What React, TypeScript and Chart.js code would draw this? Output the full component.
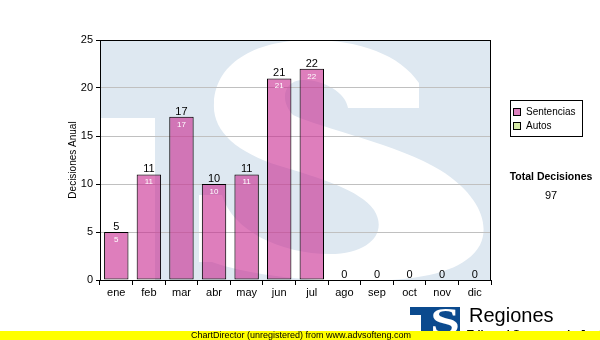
import React, { useEffect, useRef } from "react";
import { Chart, registerables } from "chart.js";

Chart.register(...registerables);

const months = ["ene", "feb", "mar", "abr", "may", "jun", "jul", "ago", "sep", "oct", "nov", "dic"];
const sentencias = [5, 11, 17, 10, 11, 21, 22, 0, 0, 0, 0, 0];
const autos: (number | null)[] = [null, null, null, null, null, null, null, null, null, null, null, null];
const seriesNames = ["Sentencias", "Autos"];
const yAxisTitle = "Decisiones Anual";
const totalLabel = "Total Decisiones";
const totalValue = 97;
const footerText = "ChartDirector (unregistered) from www.advsofteng.com";
const logoText = "Regiones";
const logoSubText = "Tribunal Supremo de Justicia";

const BAR_FILL = "rgba(200,40,143,0.6)";
const BAR_SWATCH = "#DD80BE";
const AUTOS_SWATCH = "#D6E9A6";
const WATERMARK_BLUE = "#DEE8F1";
const AXIS_FONT = "'Liberation Sans', Arial, sans-serif";

// decorative watermark "S" outline (background artwork, not data)
const S_PATH =
  "M 419 83 L 419 108 L 348 108 " +
  "C 346 92 322 79 302 80 " +
  "C 284 81 279 100 293 115 " +
  "C 320 128 400 145 440 170 " +
  "C 480 195 490 225 480 245 " +
  "C 465 272 420 281 360 281 " +
  "C 290 281 240 272 212 262 " +
  "L 199 262 L 199 195 L 222 195 " +
  "C 232 230 280 254 330 254 " +
  "C 370 254 388 232 374 210 " +
  "C 360 190 320 178 280 166 " +
  "C 235 152 212 130 214 103 " +
  "C 216 60 260 40 310 40 " +
  "C 360 40 400 55 419 83 Z";

function fitGlyph(ctx: CanvasRenderingContext2D, ch: string, font: string, x0: number, y0: number, x1: number, y1: number) {
  ctx.save();
  ctx.font = font;
  ctx.textAlign = "left";
  ctx.textBaseline = "alphabetic";
  const m = ctx.measureText(ch);
  const gw = m.actualBoundingBoxLeft + m.actualBoundingBoxRight;
  const gh = m.actualBoundingBoxAscent + m.actualBoundingBoxDescent;
  ctx.translate(x0, y0);
  ctx.scale((x1 - x0) / gw, (y1 - y0) / gh);
  ctx.fillText(ch, m.actualBoundingBoxLeft, m.actualBoundingBoxAscent);
  ctx.restore();
}

const backgroundPlugin = {
  id: "tsWatermark",
  beforeDraw(chart: any) {
    const { ctx, chartArea } = chart;
    const { left, top, right, bottom } = chartArea;
    ctx.save();
    ctx.fillStyle = "#ffffff";
    ctx.fillRect(0, 0, chart.width, chart.height);
    ctx.beginPath();
    ctx.rect(left, top, right - left, bottom - top);
    ctx.clip();
    ctx.fillStyle = WATERMARK_BLUE;
    ctx.fillRect(left, top, right - left, bottom - top);
    ctx.fillStyle = "#ffffff";
    // white area under the T crossbar, left of its stem
    ctx.fillRect(left, 118, 55, bottom - 118);
    ctx.fill(new Path2D(S_PATH));
    ctx.restore();
  },
};

const labelsPlugin = {
  id: "barLabels",
  afterDatasetsDraw(chart: any) {
    const { ctx } = chart;
    const meta = chart.getDatasetMeta(0);
    ctx.save();
    meta.data.forEach((bar: any, i: number) => {
      const v = sentencias[i];
      ctx.textAlign = "center";
      ctx.textBaseline = "alphabetic";
      ctx.fillStyle = "#000";
      ctx.font = `11px ${AXIS_FONT}`;
      ctx.fillText(String(v), bar.x, bar.y - 2);
      if (v > 0) {
        ctx.fillStyle = "#ffffff";
        ctx.font = `8px ${AXIS_FONT}`;
        ctx.fillText(String(v), bar.x, bar.y + 10);
      }
    });
    ctx.restore();
  },
};

const decorPlugin = {
  id: "decor",
  afterDraw(chart: any) {
    const { ctx, chartArea } = chart;
    const { left, top, right, bottom } = chartArea;
    ctx.save();
    // plot frame
    ctx.strokeStyle = "#000";
    ctx.lineWidth = 1;
    ctx.strokeRect(left + 0.5, top + 0.5, right - left - 1, bottom - top);

    // legend
    ctx.strokeRect(510.5, 100.5, 72, 36);
    const swatches = [BAR_SWATCH, AUTOS_SWATCH];
    seriesNames.forEach((name, i) => {
      const y = 108 + i * 14;
      ctx.fillStyle = swatches[i];
      ctx.fillRect(513, y, 8, 8);
      ctx.strokeStyle = "#000";
      ctx.strokeRect(513.5, y + 0.5, 7, 7);
      ctx.fillStyle = "#000";
      ctx.font = `10px ${AXIS_FONT}`;
      ctx.textAlign = "left";
      ctx.textBaseline = "middle";
      ctx.fillText(name, 526, y + 4.5);
    });

    // total
    ctx.textAlign = "center";
    ctx.textBaseline = "middle";
    ctx.font = `bold 10.5px ${AXIS_FONT}`;
    ctx.fillText(totalLabel, 551, 177.5);
    ctx.font = `11px ${AXIS_FONT}`;
    ctx.fillText(String(totalValue), 551, 195.5);

    // logo
    ctx.fillStyle = "#0B4A8E";
    ctx.fillRect(410, 307, 50, 24);
    ctx.fillStyle = "#ffffff";
    ctx.fillRect(410, 315, 11, 16);
    fitGlyph(ctx, "S", "bold 100px 'Liberation Serif', serif", 433, 309, 458, 335);
    ctx.fillStyle = "#000";
    ctx.textAlign = "left";
    ctx.textBaseline = "alphabetic";
    ctx.font = `20px ${AXIS_FONT}`;
    ctx.fillText(logoText, 469, 322);
    ctx.font = `bold 11px ${AXIS_FONT}`;
    ctx.fillText(logoSubText, 467, 338);

    // footer
    ctx.fillStyle = "#FFFF00";
    ctx.fillRect(0, 331, chart.width, 9);
    ctx.fillStyle = "#000";
    ctx.font = `9px ${AXIS_FONT}`;
    ctx.textAlign = "center";
    ctx.textBaseline = "middle";
    ctx.fillText(footerText, 301, 335.5);
    ctx.restore();
  },
};

export default function App() {
  const canvasRef = useRef<HTMLCanvasElement | null>(null);

  useEffect(() => {
    const canvas = canvasRef.current;
    if (!canvas) return;
    const chart = new Chart(canvas, {
      type: "bar",
      data: {
        labels: months,
        datasets: [
          {
            label: seriesNames[0],
            data: sentencias,
            backgroundColor: BAR_FILL,
            borderColor: "#000",
            borderWidth: 1,
            borderSkipped: false,
            barPercentage: 0.75,
            categoryPercentage: 1,
          },
          {
            label: seriesNames[1],
            data: autos,
            backgroundColor: AUTOS_SWATCH,
            borderColor: "#000",
            borderWidth: 0,
            barPercentage: 0.75,
            categoryPercentage: 1,
          },
        ],
      },
      options: {
        responsive: false,
        animation: false,
        devicePixelRatio: 1,
        layout: { padding: { left: 0, right: 109, top: 40, bottom: 35 } },
        plugins: {
          legend: { display: false },
          tooltip: { enabled: false },
        },
        scales: {
          x: {
            stacked: true,
            grid: { drawOnChartArea: false, drawTicks: true, tickLength: 5, tickColor: "#000" },
            border: { color: "#000" },
            ticks: {
              color: "#000",
              font: { family: AXIS_FONT, size: 11 },
              padding: 1,
              autoSkip: false,
              maxRotation: 0,
            },
            afterFit: (scale: any) => {
              scale.height = 25;
            },
          },
          y: {
            stacked: true,
            min: 0,
            max: 25,
            grid: { color: "#C0C0C0", tickColor: "#000", tickLength: 4 },
            border: { color: "#000" },
            ticks: {
              stepSize: 5,
              color: "#000",
              font: { family: AXIS_FONT, size: 11 },
              padding: 3,
            },
            title: {
              display: true,
              text: yAxisTitle,
              color: "#000",
              font: { family: AXIS_FONT, size: 10 },
              padding: { top: 67, bottom: 0 },
            },
            afterFit: (scale: any) => {
              scale.width = 100;
            },
          },
        },
      },
      plugins: [backgroundPlugin, labelsPlugin, decorPlugin],
    });
    return () => chart.destroy();
  }, []);

  return (
    <div style={{ position: "fixed", left: 0, top: 0, width: 600, height: 340, background: "#fff" }}>
      <canvas ref={canvasRef} width={600} height={340} style={{ display: "block", width: 600, height: 340 }} />
    </div>
  );
}
